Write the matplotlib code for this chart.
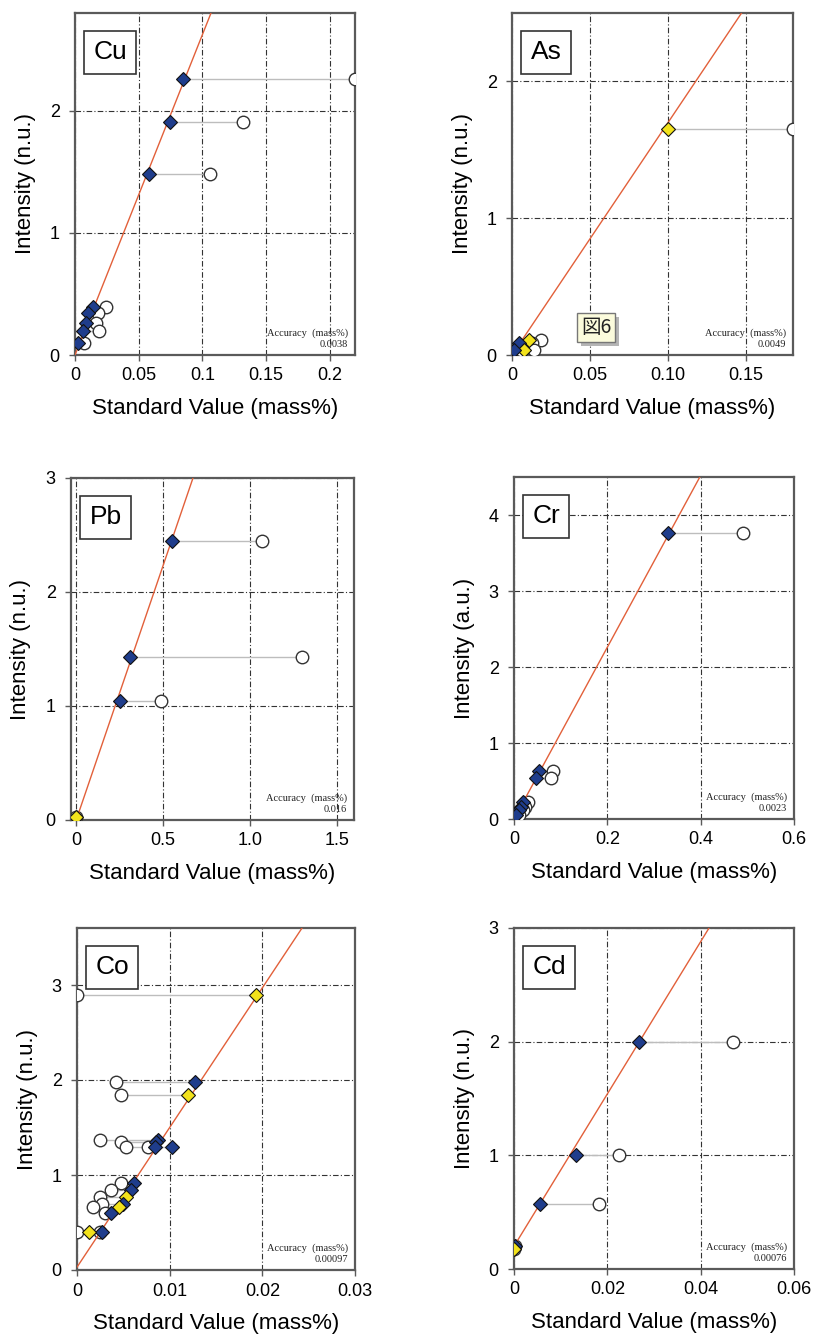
import numpy as np
import matplotlib
matplotlib.use("Agg")
import matplotlib.pyplot as plt
from matplotlib.patches import Rectangle
from matplotlib.transforms import IdentityTransform

plt.rcParams['font.family'] = ['Liberation Sans', 'DejaVu Sans']

# ---- data ----
# intensity, standard value (diamond), measured value (open circle), kind (b=blue, y=yellow)
cu_intensity = [2.26, 1.91, 1.48, 0.39, 0.34, 0.26, 0.20, 0.10]
cu_standard = [0.085, 0.075, 0.058, 0.0142, 0.0104, 0.0085, 0.0063, 0.0024]
cu_measured = [0.220, 0.132, 0.106, 0.024, 0.018, 0.0165, 0.019, 0.007]
cu_kind = ['b'] * 8

as_intensity = [1.65, 0.11, 0.09, 0.04, 0.04]
as_standard = [0.100, 0.011, 0.0045, 0.0077, 0.0013]
as_measured = [0.180, 0.0187, 0.013, 0.014, 0.006]
as_kind = ['y', 'y', 'b', 'y', 'b']

pb_intensity = [2.45, 1.43, 1.04, 0.03]
pb_standard = [0.55, 0.31, 0.25, 0.0]
pb_measured = [1.07, 1.30, 0.49, 0.0]
pb_kind = ['b', 'b', 'b', 'y']

cr_intensity = [3.76, 0.63, 0.54, 0.22, 0.16, 0.12, 0.05]
cr_standard = [0.330, 0.054, 0.047, 0.020, 0.015, 0.011, 0.004]
cr_measured = [0.490, 0.084, 0.080, 0.029, 0.024, 0.019, 0.010]
cr_kind = ['b'] * 7

co_intensity = [2.90, 1.98, 1.84, 1.37, 1.35, 1.29, 1.29, 0.92, 0.84, 0.77, 0.70, 0.66, 0.60, 0.40, 0.40]
co_standard = [0.0193, 0.0127, 0.0120, 0.0087, 0.0085, 0.0102, 0.0084, 0.0061, 0.0058, 0.0053, 0.0050,
               0.0045, 0.0037, 0.0027, 0.0013]
co_measured = [0.0000, 0.0042, 0.0048, 0.0025, 0.0048, 0.0053, 0.0077, 0.0047, 0.0037, 0.0025, 0.0027,
               0.0017, 0.0030, 0.0025, 0.0000]
co_kind = ['y', 'b', 'y', 'b', 'b', 'b', 'b', 'b', 'b', 'y', 'b', 'y', 'b', 'b', 'y']

cd_intensity = [2.00, 1.00, 0.57, 0.20, 0.18]
cd_standard = [0.0268, 0.0133, 0.0056, 0.0002, 0.0]
cd_measured = [0.0469, 0.0225, 0.0182, 0.0002, 0.0]
cd_kind = ['b', 'b', 'b', 'b', 'y']

# calibration line: slope, intercept
fits = {'Cu': (26.2, 0.0), 'As': (17.0, 0.0), 'Pb': (4.46, 0.0),
        'Cr': (11.3, 0.0), 'Co': (147.0, 0.03), 'Cd': (67.0, 0.2)}
accuracy = {'Cu': '0.0038', 'As': '0.0049', 'Pb': '0.016',
            'Cr': '0.0023', 'Co': '0.00097', 'Cd': '0.00076'}

W, H = 817, 1335
fig = plt.figure(figsize=(W / 100, H / 100), dpi=100)
fig.patch.set_facecolor('white')

BLUE = '#1f3d8c'
YELLOW = '#f2e21c'
RED = '#e2603a'
SPINE = '#5a5a5a'


def px_axes(left, top, right, bottom):
    return fig.add_axes([left / W, 1 - bottom / H, (right - left) / W, (bottom - top) / H])


def panel(ax, name, inten, std, meas, kind, xlim, ylim, xticks, xlabels, yticks, ylabel):
    ax.set_xlim(*xlim)
    ax.set_ylim(*ylim)
    # gray connectors between standard and measured values
    for i, s, m in zip(inten, std, meas):
        ax.plot([s, m], [i, i], color='#bdbdbd', lw=1.0, zorder=2)
    ax.plot(meas, inten, 'o', ms=9, mfc='white', mec='#333333', mew=1.0, zorder=3)
    slope, icpt = fits[name]
    xs = np.array(xlim)
    ax.plot(xs, slope * xs + icpt, color=RED, lw=1.0, zorder=4)
    for i, s, k in zip(inten, std, kind):
        ax.plot(s, i, 'D', ms=7, mfc=BLUE if k == 'b' else YELLOW, mec='#111111', mew=0.8, zorder=5)

    ax.set_xticks(xticks)
    ax.set_xticklabels(xlabels)
    ax.set_yticks(yticks)
    ax.tick_params(labelsize=13, length=4, width=1, color=SPINE)
    ax.tick_params(axis='y', pad=7)
    ax.tick_params(axis='x', pad=5)
    ax.grid(True, color='#333333', lw=0.8, linestyle=(0, (5, 2, 1, 2)))
    for sp in ax.spines.values():
        sp.set_color(SPINE)
        sp.set_linewidth(1.6)

    ax.set_xlabel('Standard Value (mass%)', fontsize=16)
    ax.xaxis.set_label_coords(0.5, -0.125)
    ax.set_ylabel(ylabel, fontsize=16)
    ax.yaxis.set_label_coords(-0.14, 0.5)

    ax.text(0.066, 0.92, name, transform=ax.transAxes, ha='left', va='top', fontsize=19, zorder=6,
            bbox=dict(boxstyle='square,pad=0.35', fc='white', ec='#333333', lw=1.2))
    ax.text(0.975, 0.018, 'Accuracy  (mass%)\n' + accuracy[name], transform=ax.transAxes,
            ha='right', va='bottom', fontsize=7.5, family='Liberation Serif', linespacing=1.25,
            color='#222222', zorder=6, multialignment='right')


ax_cu = px_axes(75, 13, 355, 355)
panel(ax_cu, 'Cu', cu_intensity, cu_standard, cu_measured, cu_kind, (0, 0.22), (0, 2.8),
      [0, 0.05, 0.1, 0.15, 0.2], ['0', '0.05', '0.1', '0.15', '0.2'], [0, 1, 2], 'Intensity (n.u.)')

ax_as = px_axes(512, 13, 793, 355)
panel(ax_as, 'As', as_intensity, as_standard, as_measured, as_kind, (0, 0.18), (0, 2.5),
      [0, 0.05, 0.10, 0.15], ['0', '0.05', '0.10', '0.15'], [0, 1, 2], 'Intensity (n.u.)')

ax_pb = px_axes(71, 478, 354, 820)
panel(ax_pb, 'Pb', pb_intensity, pb_standard, pb_measured, pb_kind, (-0.03, 1.6), (0, 3),
      [0, 0.5, 1.0, 1.5], ['0', '0.5', '1.0', '1.5'], [0, 1, 2, 3], 'Intensity (n.u.)')

ax_cr = px_axes(514, 477, 794, 819)
panel(ax_cr, 'Cr', cr_intensity, cr_standard, cr_measured, cr_kind, (0, 0.6), (0, 4.5),
      [0, 0.2, 0.4, 0.6], ['0', '0.2', '0.4', '0.6'], [0, 1, 2, 3, 4], 'Intensity (a.u.)')

ax_co = px_axes(77, 928, 355, 1270)
panel(ax_co, 'Co', co_intensity, co_standard, co_measured, co_kind, (0, 0.03), (0, 3.6),
      [0, 0.01, 0.02, 0.03], ['0', '0.01', '0.02', '0.03'], [0, 1, 2, 3], 'Intensity (n.u.)')

ax_cd = px_axes(514, 928, 794, 1269)
panel(ax_cd, 'Cd', cd_intensity, cd_standard, cd_measured, cd_kind, (0, 0.06), (0, 3),
      [0, 0.02, 0.04, 0.06], ['0', '0.02', '0.04', '0.06'], [0, 1, 2, 3], 'Intensity (n.u.)')

# "図6" callout on the As panel, with a drop shadow behind its box
note = ax_as.text(0.30, 0.08, '図6', transform=ax_as.transAxes, ha='center', va='center', fontsize=14,
                  family=['Noto Sans CJK JP', 'DejaVu Sans'], color='#222222', zorder=8,
                  bbox=dict(boxstyle='square,pad=0.2', fc='#fbfbdc', ec='#777777', lw=1))
fig.canvas.draw()
bb = note.get_bbox_patch().get_window_extent()
shadow = Rectangle((bb.x0 + 4, bb.y0 - 4), bb.width, bb.height, transform=IdentityTransform(),
                   fc='#b5b5b5', ec='none', zorder=7, clip_on=False)
ax_as.add_patch(shadow)
shadow.set_transform(IdentityTransform())

fig.savefig('out.png', dpi=100)
